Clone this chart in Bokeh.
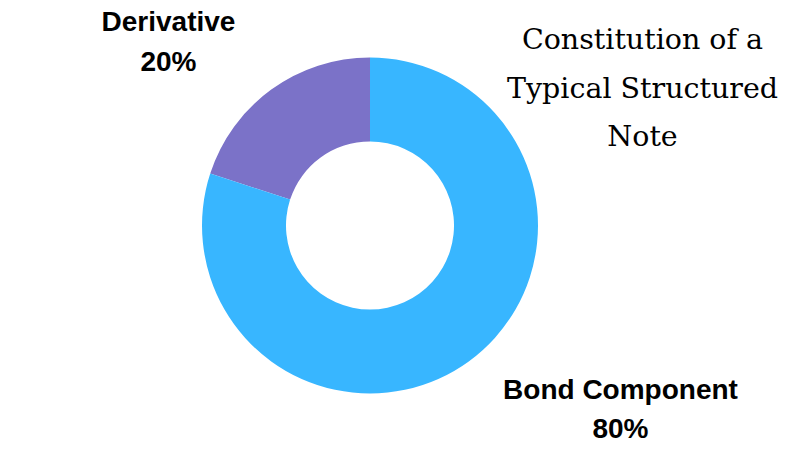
import math
from bokeh.plotting import figure
from bokeh.models import Range1d, ColumnDataSource
from bokeh.core.properties import value
from bokeh.embed import file_html
from bokeh.resources import INLINE

# Data
categories = ["Derivative", "Bond Component"]
shares = [20, 80]
colors = ["#7B72C8", "#38B6FF"]
title_lines = ["Constitution of a", "Typical Structured", "Note"]

W, H = 810, 450
p = figure(width=W, height=H, output_backend="svg", toolbar_location=None,
           x_range=Range1d(0, W), y_range=Range1d(0, H),
           min_border=0, background_fill_color="white", border_fill_color="white")
p.axis.visible = False
p.grid.visible = False
p.outline_line_color = None

# Donut (y in data = 450 - pixel y)
cx, cy = 369.5, 450 - 225
total = sum(shares)
starts, ends = [], []
acc = 0.0
for v in shares:
    a0 = math.pi / 2 + 2 * math.pi * acc / total
    acc += v
    a1 = math.pi / 2 + 2 * math.pi * acc / total
    starts.append(a0)
    ends.append(a1)
src = ColumnDataSource(dict(x=[cx] * len(shares), y=[cy] * len(shares),
                            start=starts, end=ends, color=colors))
p.annular_wedge(x="x", y="y", inner_radius=84, outer_radius=168,
                start_angle="start", end_angle="end", fill_color="color",
                line_color=None, source=src, direction="anticlock")

# Category labels
label_pos = [(168, 21, 61), (620, 389, 428)]
for name, v, (lx, by1, by2) in zip(categories, shares, label_pos):
    p.text(x=[lx], y=[450 - by1], text=[name], text_align="center",
           text_baseline="alphabetic", text_font=value("Liberation Sans"),
           text_font_style="bold", text_font_size="28px", text_color="#000000")
    p.text(x=[lx], y=[450 - by2], text=[f"{v}%"], text_align="center",
           text_baseline="alphabetic", text_font=value("Liberation Sans"),
           text_font_style="bold", text_font_size="28px", text_color="#000000")

# Title
for i, line in enumerate(title_lines):
    p.text(x=[642], y=[450 - (39 + 48.5 * i)], text=[line], text_align="center",
           text_baseline="alphabetic", text_font=value("DejaVu Serif"),
           text_font_size="28.5px", text_color="#000000")

open("out.html", "w").write(file_html(p, INLINE))
